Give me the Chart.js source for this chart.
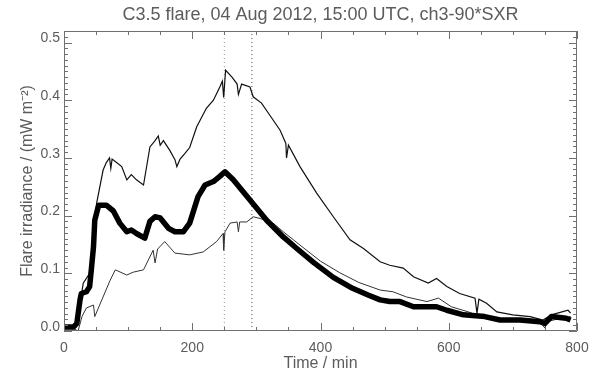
<!DOCTYPE html>
<html>
<head>
<meta charset="utf-8">
<script src="https://cdn.jsdelivr.net/npm/chart.js@4.4.1/dist/chart.umd.min.js"></script>
<style>
  body { margin: 0; background: #ffffff; }
  #wrap { width: 598px; height: 374px; }
</style>
</head>
<body>
<div id="wrap"><canvas id="flareChart" width="598" height="374"></canvas></div>
<script>
// Upper thin curve
const upperTime = [0, 10, 18, 22, 30, 40, 46, 51, 61, 66, 71, 73, 75, 82, 90, 98, 105, 113, 124, 134, 142, 147, 150, 155, 165, 173, 176, 181, 188, 196, 207, 222, 233, 243, 247, 249, 252, 262, 270, 272, 277, 290, 295, 308, 321, 337, 346, 347, 350, 368, 394, 420, 446, 467, 493, 508, 529, 545, 568, 581, 597, 617, 641, 644, 647, 659, 675, 700, 727, 747, 760, 786, 790];
const upperFlux = [0.006, 0.006, 0.010, 0.028, 0.083, 0.100, 0.158, 0.222, 0.279, 0.292, 0.300, 0.282, 0.298, 0.292, 0.285, 0.262, 0.271, 0.262, 0.253, 0.319, 0.330, 0.338, 0.322, 0.330, 0.313, 0.297, 0.285, 0.298, 0.307, 0.318, 0.354, 0.386, 0.400, 0.423, 0.433, 0.405, 0.452, 0.440, 0.428, 0.410, 0.428, 0.423, 0.406, 0.395, 0.374, 0.348, 0.325, 0.300, 0.322, 0.285, 0.239, 0.198, 0.158, 0.143, 0.120, 0.114, 0.109, 0.094, 0.083, 0.091, 0.077, 0.065, 0.057, 0.031, 0.055, 0.048, 0.033, 0.028, 0.025, 0.019, 0.028, 0.036, 0.031];

// Thick curve (ch3-90*SXR)
const sxrTime = [0, 15, 20, 25, 27, 35, 40, 43, 46, 48, 54, 66, 77, 87, 98, 105, 113, 126, 134, 142, 150, 163, 173, 186, 196, 209, 220, 233, 243, 251, 264, 290, 316, 342, 363, 390, 420, 450, 475, 493, 508, 524, 545, 581, 597, 623, 656, 680, 711, 742, 750, 760, 783, 790];
const sxrFlux = [0.007, 0.007, 0.013, 0.054, 0.065, 0.068, 0.077, 0.111, 0.146, 0.192, 0.218, 0.218, 0.208, 0.187, 0.172, 0.175, 0.169, 0.161, 0.190, 0.198, 0.196, 0.178, 0.172, 0.172, 0.187, 0.233, 0.253, 0.259, 0.268, 0.276, 0.262, 0.227, 0.192, 0.163, 0.143, 0.118, 0.093, 0.074, 0.062, 0.054, 0.051, 0.051, 0.042, 0.042, 0.036, 0.028, 0.025, 0.019, 0.019, 0.016, 0.013, 0.025, 0.022, 0.019];

// Lower thin curve
const lowerTime = [0, 15, 22, 28, 35, 46, 48, 59, 72, 80, 98, 108, 124, 139, 142, 146, 157, 173, 196, 217, 238, 248, 249, 251, 259, 270, 272, 274, 285, 295, 306, 326, 342, 368, 400, 430, 460, 493, 513, 534, 566, 584, 604, 631, 649, 675, 700, 742, 750, 753, 770, 790];
const lowerFlux = [0.004, 0.004, 0.000, 0.025, 0.040, 0.045, 0.025, 0.054, 0.088, 0.106, 0.097, 0.102, 0.106, 0.140, 0.118, 0.142, 0.155, 0.135, 0.132, 0.137, 0.155, 0.169, 0.140, 0.172, 0.187, 0.189, 0.172, 0.189, 0.189, 0.198, 0.195, 0.187, 0.172, 0.149, 0.121, 0.101, 0.084, 0.071, 0.068, 0.059, 0.051, 0.057, 0.042, 0.033, 0.025, 0.021, 0.019, 0.016, 0.005, 0.016, 0.021, 0.025];

// Dotted vertical markers (min)
const markerTimes = [250, 293];
const markerColors = ["#9a9a9a", "#4a4a4a"];

// Axes
const xTickValues = [0, 200, 400, 600, 800];
const yTickValues = [0.0, 0.1, 0.2, 0.3, 0.4, 0.5];
const xRange = [0, 800];
const yRange = [0, 0.52];

const textColor = "#5c5c5c";
const axisColor = "#707070";
const fontFamily = "'Liberation Sans', Arial, sans-serif";

function toPoints(times, values) {
    return times.map((t, i) => ({ x: t, y: values[i] }));
}

// IDL-like frame with inward major/minor ticks on all four sides
const frameTicks = {
    id: "frameTicks",
    afterDraw(chart) {
        const { ctx, chartArea: a, scales: { x, y } } = chart;
        ctx.save();
        ctx.strokeStyle = axisColor;
        ctx.lineWidth = 1;
        ctx.beginPath();
        ctx.rect(a.left + 0.5, a.top + 0.5, a.right - a.left - 1, a.bottom - a.top - 1);
        for (let v = xRange[0]; v <= xRange[1]; v += 50) {
            const px = Math.round(x.getPixelForValue(v)) + 0.5;
            const len = v % 200 === 0 ? 8 : 4;
            ctx.moveTo(px, a.bottom); ctx.lineTo(px, a.bottom - len);
            ctx.moveTo(px, a.top); ctx.lineTo(px, a.top + len);
        }
        for (let i = 0; i <= 52; i++) {
            const py = Math.round(y.getPixelForValue(i / 100)) + 0.5;
            const len = i % 10 === 0 ? 8 : 4;
            ctx.moveTo(a.left, py); ctx.lineTo(a.left + len, py);
            ctx.moveTo(a.right, py); ctx.lineTo(a.right - len, py);
        }
        ctx.stroke();
        ctx.restore();
    }
};

const markerSets = markerTimes.map((t, i) => ({
    data: [{ x: t, y: yRange[0] }, { x: t, y: yRange[1] }],
    borderColor: markerColors[i],
    borderWidth: 1,
    borderDash: [1, 3],
    pointRadius: 0,
    order: 5
}));

const ctx = document.getElementById("flareChart").getContext("2d");
new Chart(ctx, {
    type: "line",
    data: {
        datasets: [
            {
                label: "ch3-90*SXR",
                data: toPoints(sxrTime, sxrFlux),
                borderColor: "#000000",
                borderWidth: 5.5,
                borderJoinStyle: "round",
                pointRadius: 0,
                tension: 0,
                order: 0
            },
            {
                label: "upper",
                data: toPoints(upperTime, upperFlux),
                borderColor: "#111111",
                borderWidth: 1.2,
                pointRadius: 0,
                tension: 0,
                order: 1
            },
            {
                label: "lower",
                data: toPoints(lowerTime, lowerFlux),
                borderColor: "#333333",
                borderWidth: 1,
                pointRadius: 0,
                tension: 0,
                order: 2
            },
            ...markerSets
        ]
    },
    options: {
        responsive: false,
        animation: false,
        layout: { padding: { left: 0, right: 21, top: 0, bottom: 0 } },
        plugins: {
            legend: { display: false },
            tooltip: { enabled: false },
            title: {
                display: true,
                fullSize: false,
                text: "C3.5 flare, 04 Aug 2012, 15:00 UTC, ch3-90*SXR",
                color: textColor,
                font: { family: fontFamily, size: 18, weight: "normal" },
                padding: { top: 4, bottom: 5.4 }
            }
        },
        scales: {
            x: {
                type: "linear",
                min: xRange[0],
                max: xRange[1],
                afterBuildTicks: (scale) => { scale.ticks = xTickValues.map((v) => ({ value: v })); },
                afterFit: (scale) => { scale.height = 43; },
                grid: { display: false, drawTicks: false },
                border: { display: false },
                ticks: {
                    color: textColor,
                    padding: 9,
                    maxRotation: 0,
                    font: { family: fontFamily, size: 14 },
                    callback: (v) => String(v)
                },
                title: {
                    display: true,
                    text: "Time / min",
                    color: textColor,
                    font: { family: fontFamily, size: 16 },
                    padding: { top: 0, bottom: 1 }
                }
            },
            y: {
                type: "linear",
                min: yRange[0],
                max: yRange[1],
                afterBuildTicks: (scale) => { scale.ticks = yTickValues.map((v) => ({ value: v })); },
                afterFit: (scale) => { scale.width = 64; },
                grid: { display: false, drawTicks: false },
                border: { display: false },
                ticks: {
                    color: textColor,
                    padding: 4,
                    labelOffset: -4,
                    font: { family: fontFamily, size: 14 },
                    callback: (v) => v.toFixed(1)
                },
                title: {
                    display: true,
                    text: "Flare irradiance / (mW m⁻²)",
                    color: textColor,
                    font: { family: fontFamily, size: 16 },
                    padding: { top: 18, bottom: 0 }
                }
            }
        }
    },
    plugins: [frameTicks]
});
</script>
</body>
</html>
